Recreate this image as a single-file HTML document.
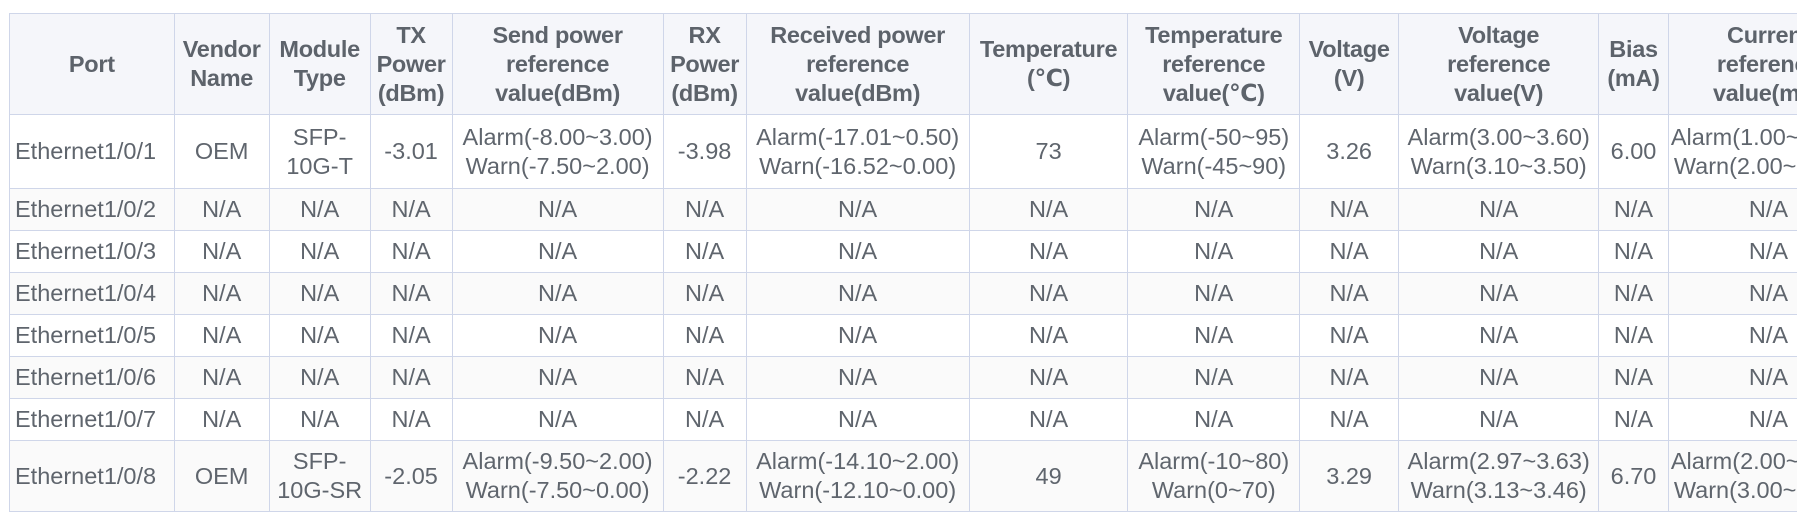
<!DOCTYPE html>
<html><head><meta charset="utf-8">
<style>
html,body{margin:0;padding:0;background:#fff;width:1812px;height:517px;overflow:hidden}
.wrap{position:absolute;left:9px;top:13px;width:1788px;overflow:hidden}
table{border-collapse:collapse;table-layout:fixed;width:1860px;font-family:"Liberation Sans","DejaVu Sans",sans-serif;font-size:23.5px;color:#5f656d}
td,th{border:1px solid #cfd6e9;text-align:center;vertical-align:middle;padding:0 2px;line-height:29px;overflow:hidden;white-space:nowrap}
th{background:#f5f6fa;font-weight:bold;color:#5d636b;height:100px;letter-spacing:-0.3px}
tr.r1 td{height:73px}
tr.r8 td{height:70px}
tr.n td{height:41px}
tr.g td{background:#fafafa}
td.p{text-align:left;padding-left:5px}
</style></head><body>
<div class="wrap">
<table>
<colgroup>
<col style="width:163px"><col style="width:94px"><col style="width:100px"><col style="width:81px"><col style="width:209px"><col style="width:82px"><col style="width:221px"><col style="width:157px"><col style="width:170px"><col style="width:98px"><col style="width:198px"><col style="width:69px"><col style="width:198px">
</colgroup>
<tr><th>Port</th><th>Vendor<br>Name</th><th>Module<br>Type</th><th>TX<br>Power<br>(dBm)</th><th>Send power<br>reference<br>value(dBm)</th><th>RX<br>Power<br>(dBm)</th><th>Received power<br>reference<br>value(dBm)</th><th>Temperature<br>(℃)</th><th>Temperature<br>reference<br>value(℃)</th><th>Voltage<br>(V)</th><th>Voltage<br>reference<br>value(V)</th><th>Bias<br>(mA)</th><th>Current<br>reference<br>value(mA)</th></tr>
<tr class="r1"><td class="p">Ethernet1/0/1</td><td>OEM</td><td>SFP-<br>10G-T</td><td>-3.01</td><td>Alarm(-8.00~3.00)<br>Warn(-7.50~2.00)</td><td>-3.98</td><td>Alarm(-17.01~0.50)<br>Warn(-16.52~0.00)</td><td>73</td><td>Alarm(-50~95)<br>Warn(-45~90)</td><td>3.26</td><td>Alarm(3.00~3.60)<br>Warn(3.10~3.50)</td><td>6.00</td><td>Alarm(1.00~15.00)<br>Warn(2.00~14.00)</td></tr>
<tr class="n g"><td class="p">Ethernet1/0/2</td><td>N/A</td><td>N/A</td><td>N/A</td><td>N/A</td><td>N/A</td><td>N/A</td><td>N/A</td><td>N/A</td><td>N/A</td><td>N/A</td><td>N/A</td><td>N/A</td></tr>
<tr class="n"><td class="p">Ethernet1/0/3</td><td>N/A</td><td>N/A</td><td>N/A</td><td>N/A</td><td>N/A</td><td>N/A</td><td>N/A</td><td>N/A</td><td>N/A</td><td>N/A</td><td>N/A</td><td>N/A</td></tr>
<tr class="n g"><td class="p">Ethernet1/0/4</td><td>N/A</td><td>N/A</td><td>N/A</td><td>N/A</td><td>N/A</td><td>N/A</td><td>N/A</td><td>N/A</td><td>N/A</td><td>N/A</td><td>N/A</td><td>N/A</td></tr>
<tr class="n"><td class="p">Ethernet1/0/5</td><td>N/A</td><td>N/A</td><td>N/A</td><td>N/A</td><td>N/A</td><td>N/A</td><td>N/A</td><td>N/A</td><td>N/A</td><td>N/A</td><td>N/A</td><td>N/A</td></tr>
<tr class="n g"><td class="p">Ethernet1/0/6</td><td>N/A</td><td>N/A</td><td>N/A</td><td>N/A</td><td>N/A</td><td>N/A</td><td>N/A</td><td>N/A</td><td>N/A</td><td>N/A</td><td>N/A</td><td>N/A</td></tr>
<tr class="n"><td class="p">Ethernet1/0/7</td><td>N/A</td><td>N/A</td><td>N/A</td><td>N/A</td><td>N/A</td><td>N/A</td><td>N/A</td><td>N/A</td><td>N/A</td><td>N/A</td><td>N/A</td><td>N/A</td></tr>
<tr class="r8 g"><td class="p">Ethernet1/0/8</td><td>OEM</td><td>SFP-<br>10G-SR</td><td>-2.05</td><td>Alarm(-9.50~2.00)<br>Warn(-7.50~0.00)</td><td>-2.22</td><td>Alarm(-14.10~2.00)<br>Warn(-12.10~0.00)</td><td>49</td><td>Alarm(-10~80)<br>Warn(0~70)</td><td>3.29</td><td>Alarm(2.97~3.63)<br>Warn(3.13~3.46)</td><td>6.70</td><td>Alarm(2.00~15.00)<br>Warn(3.00~14.00)</td></tr>
</table>
</div>
</body></html>
